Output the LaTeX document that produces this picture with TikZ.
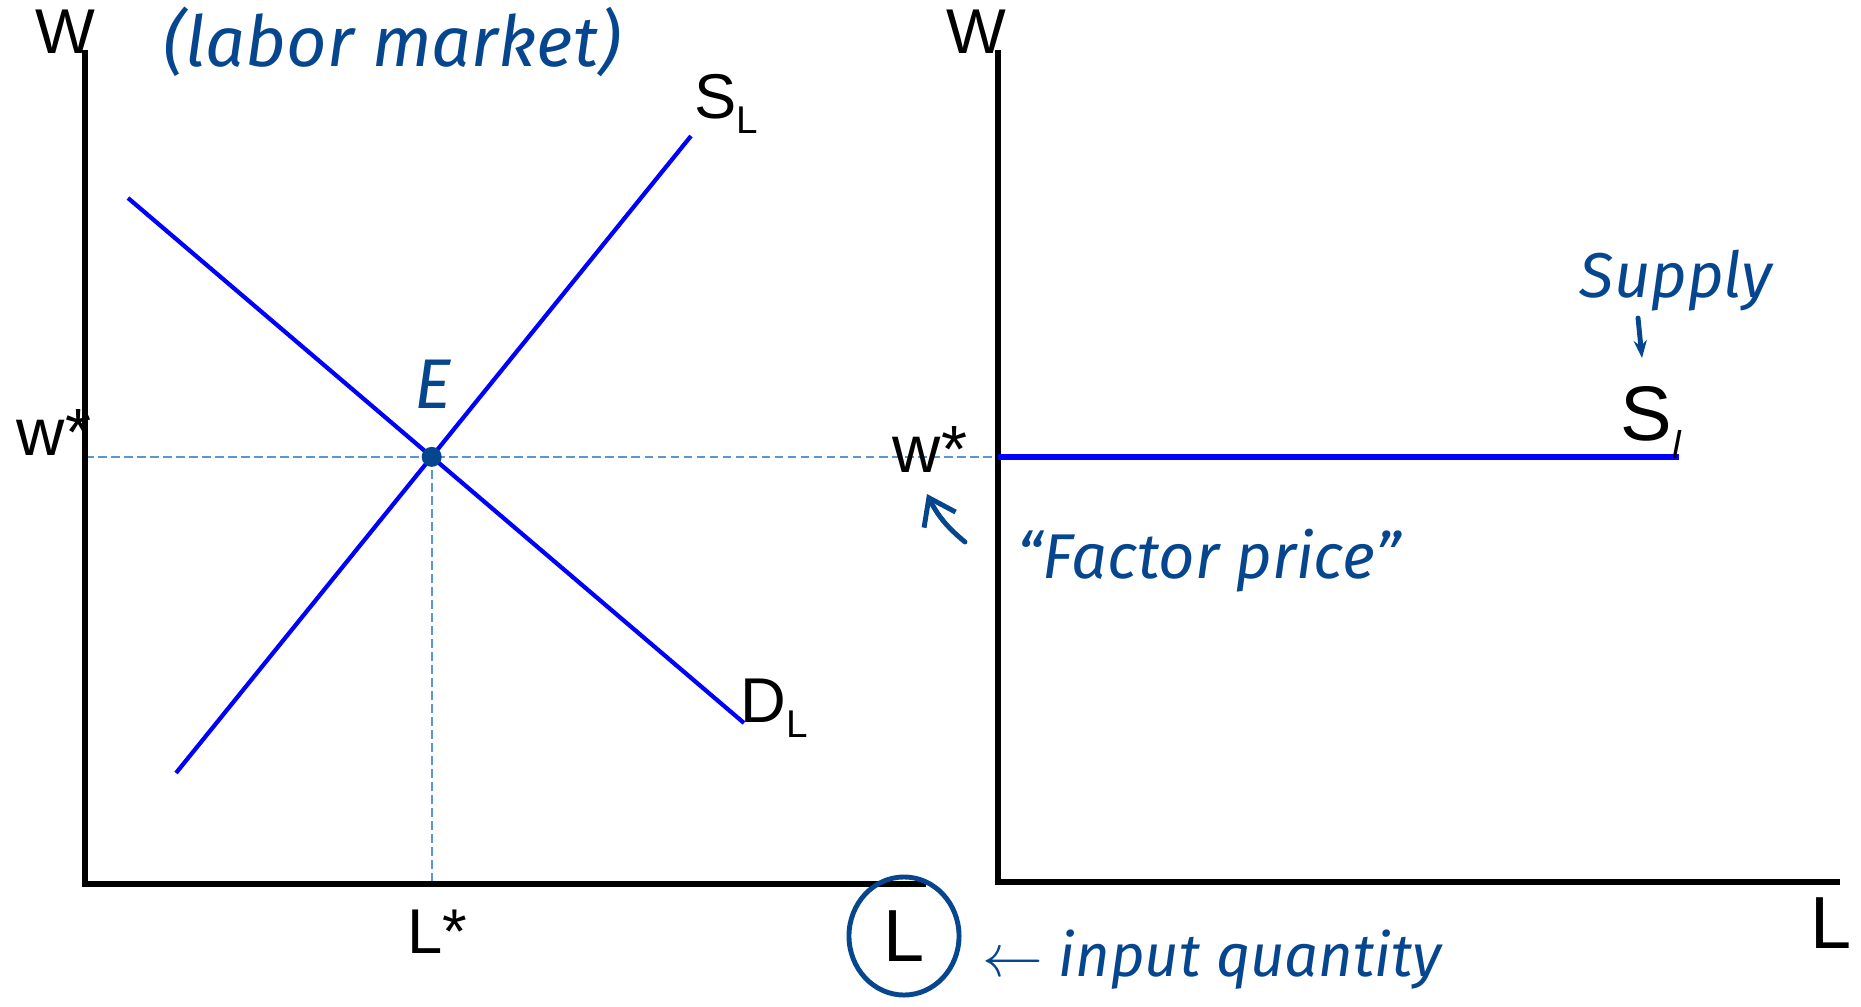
\documentclass[tikz,border=0pt]{standalone}
\usepackage{fontspec}
\setmainfont{Liberation Sans}
\newfontfamily\handfont{Fira Sans}
\usepackage{tikz}
\usetikzlibrary{arrows.meta,positioning}
\definecolor{penblue}{RGB}{6,70,142}
\definecolor{guideblue}{RGB}{90,150,210}
\newcommand{\lowidx}[1]{\raisebox{-0.45ex}{\fontsize{11}{11}\selectfont #1}}

\begin{document}
\begin{tikzpicture}[x=0.01cm, y=-0.01cm, every node/.style={inner sep=0pt},
  lab/.style={font=\fontsize{18}{20}\selectfont},
  axis/.style={line width=1.5pt},
  curve/.style={line width=1.2pt,blue},
  guide/.style={line width=0.5pt,guideblue,dash pattern=on 2.5pt off 1.2pt},
  note/.style={font=\handfont\itshape\fontsize{18}{21}\selectfont,text=penblue},
  pen/.style={penblue,line width=1.4pt,line cap=round}]
  \useasboundingbox (0,0) rectangle (1861,1006);
  % Left panel (labor market)
  \coordinate (o1) at (85,884);
  \coordinate (w1) at (85,50);
  \coordinate (l1) at (926,884);
  \coordinate (sA) at (176,773);
  \coordinate (sB) at (691,136);
  \coordinate (dA) at (128,198);
  \coordinate (dB) at (744,723);
  % Right panel
  \coordinate (o2) at (998,882);
  \coordinate (w2) at (998,50);
  \coordinate (l2) at (1840,882);
  \coordinate (E0) at (intersection of sA--sB and dA--dB);
  \coordinate (sEnd) at (1679,0);
  % guides through E
  \draw[guide] (o1 |- E0) -- (o2 |- E0);
  \draw[guide] (E0) -- (E0 |- o1);
  \draw[axis] (w1) -- (o1) -- (l1);
  \draw[axis] (w2) -- (o2) -- (l2);
  \draw[curve] (sA) -- (sB);
  \draw[curve] (dA) -- (dB);
  \draw[line width=1.7pt,blue] (o2 |- E0) -- (sEnd |- E0);
  \node[circle,fill=penblue,minimum size=0.2cm] (E) at (E0) {};
  % labels
  \node[lab] (wa1) at (65,32) {W};
  \node[lab] (wa2) at (976,32) {W};
  \node[lab,font=\fontsize{19}{21}\selectfont,anchor=base] (wst1) at (54,455) {w*};
  \node[lab,font=\fontsize{19}{21}\selectfont,anchor=base] (wst2) at (930,472) {w*};
  \node[lab,anchor=base] (lst) at (437,953) {L*};
  \node[font=\fontsize{21}{24}\selectfont] (La) at (904,936) {L};
  \node[font=\fontsize{21}{24}\selectfont] (Lb) at (1831,923) {L};
  \node[lab,anchor=base west] (sl) at (694,118) {S\lowidx{L}};
  \node[lab,anchor=base west] (dl) at (740,722) {D\lowidx{L}};
  \node[font=\fontsize{22}{24}\selectfont,anchor=base west] (si) at (1620,440) {S\lowidx{\itshape l}};
  % handwritten notes
  \node[note,font=\handfont\itshape\fontsize{20}{22}\selectfont] (mkt) at (392,42) {(labor market)};
  \node[note,font=\handfont\itshape\fontsize{20}{22}\selectfont] (Elab) at (433,384) {E};
  \node[note,anchor=base] (sup) at (1676,297) {Supply};
  \node[note,anchor=base] (fp) at (1209,578) {“Factor price”};
  \node[note,font=\handfont\itshape\fontsize{17}{20}\selectfont,anchor=base west] (iq) at (982,976) {$\leftarrow$ input quantity};
  \draw[pen] (La) ellipse [x radius=0.55cm, y radius=0.59cm];
  \coordinate (supTail) at (1638,318);
  \coordinate (supTip) at (1642,358);
  \draw[pen,-{Stealth[length=5pt]}] (supTail) -- (supTip);
  \coordinate (fpTail) at (965,542);
  \coordinate (fpTip) at (927,494);
  \draw[pen,-{Straight Barb[length=7pt,width=10pt]}] (fpTail) to[bend left=12] (fpTip);
\end{tikzpicture}
\end{document}
